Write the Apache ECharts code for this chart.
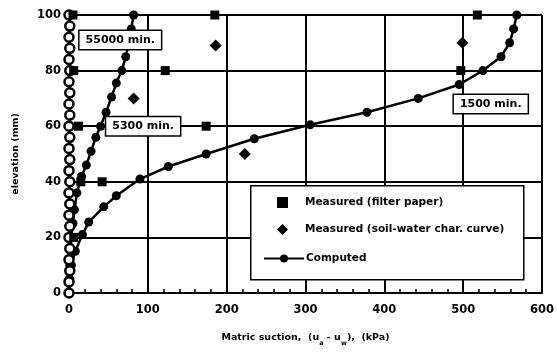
<!DOCTYPE html>
<html><head><meta charset="utf-8">
<script src="https://cdn.jsdelivr.net/npm/echarts@6/dist/echarts.min.js"></script>
<style>html,body{margin:0;padding:0;background:#fff}#c{width:557px;height:354px}</style>
</head><body><div id="c"></div>
<script>
// ---- data ----
const xTickValues = [0, 100, 200, 300, 400, 500, 600];
const yTickValues = [0, 20, 40, 60, 80, 100];
const filterPaper = [[5,100],[185,100],[518,100],[6,80],[122,80],[497,80],[12,60],[174,60],[15,40],[42,40],[6,20]];
const soilWaterCurve = [[186,89],[82,70],[223,50],[499,90]];
const computed1500 = [[0,0],[1,5],[3,10],[8,15],[17,21],[25,25.5],[44,31],[60,35],[90,41],[126,45.5],[174,50],[235,55.5],[306,60.5],[378,65],[443,70],[495,75],[525,80],[548,85],[559,90],[564,95],[568,100]];
const computed5300 = [[0,0],[0,5],[1,10],[2,15],[3,20],[5,25],[7,30],[10,36],[16,42],[22,46],[28,51],[34,56],[40,60],[47,65],[54,70.5],[60,75.5],[67,80],[72,85],[76,90],[79,95],[82,100]];
const computed55000 = [[0,0],[0,4],[1,8],[0,12],[1,16],[0,20],[1,24],[0,28],[1,32],[0,36],[1,40],[0,44],[1,48],[0,52],[1,56],[0,60],[1,64],[0,68],[1,72],[0,76],[1,80],[0,84],[1,88],[0,92],[1,96],[0,100]];
const curveLabels = ['1500 min.', '5300 min.', '55000 min.'];
const labelAnchors = [[535,68],[94,60],[65,91]];
const seriesNames = ['Measured (filter paper)', 'Measured (soil-water char. curve)', 'Computed'];

const FONT = 'DejaVu Sans';
function boxLabel(i) {
  return {
    symbol: 'rect', symbolSize: 0, z: 10,
    data: [{ coord: labelAnchors[i], value: curveLabels[i] }],
    label: {
      show: true, position: 'inside', formatter: curveLabels[i],
      color: '#000', fontFamily: FONT, fontWeight: 'bold', fontSize: 11,
      backgroundColor: '#fff', borderColor: '#000', borderWidth: 1.5,
      padding: [4, 6, 3, 6]
    }
  };
}
const lineBase = {
  type: 'line', name: seriesNames[2], symbol: 'circle', symbolSize: 9, showSymbol: true,
  itemStyle: { color: '#000' }, lineStyle: { color: '#000', width: 2.5 }, z: 3
};
const legendText = { color: '#000', fontFamily: FONT, fontWeight: 'bold', fontSize: 10.5 };
const chart = echarts.init(document.getElementById('c'), null, { renderer: 'canvas' });
chart.setOption({
  animation: false,
  backgroundColor: '#fff',
  grid: { left: 69, right: 11, top: 15, bottom: 61 },
  xAxis: {
    type: 'value', min: xTickValues[0], max: xTickValues[xTickValues.length - 1], interval: 100,
    name: 'Matric suction,  (u{s|a} - u{s|w}),  (kPa)',
    nameLocation: 'middle', nameGap: 40,
    nameTextStyle: {
      color: '#000', fontFamily: FONT, fontWeight: 'bold', fontSize: 9.5,
      rich: { s: { fontSize: 6.5, fontFamily: FONT, fontWeight: 'bold', color: '#000', verticalAlign: 'bottom', padding: [0,0,-4,0] } }
    },
    axisLine: { show: true, lineStyle: { color: '#000', width: 2 } },
    axisTick: { show: false, inside: true },
    minorTick: { show: true, splitNumber: 5, length: 4, lineStyle: { color: '#000', width: 1.5 } },
    axisLabel: { color: '#000', fontFamily: FONT, fontWeight: 'bold', fontSize: 11.5, margin: 11 },
    splitLine: { show: true, lineStyle: { color: '#000', width: 2 } }
  },
  yAxis: {
    type: 'value', min: yTickValues[0], max: yTickValues[yTickValues.length - 1], interval: 20,
    name: 'elevation (mm)', nameLocation: 'middle', nameGap: 48, nameRotate: 90,
    nameTextStyle: { color: '#000', fontFamily: FONT, fontWeight: 'bold', fontSize: 9.5 },
    axisLine: { show: true, lineStyle: { color: '#000', width: 2 } },
    axisTick: { show: false },
    axisLabel: { color: '#000', fontFamily: FONT, fontWeight: 'bold', fontSize: 11.5, margin: 8 },
    splitLine: { show: true, lineStyle: { color: '#000', width: 2 } }
  },
  graphic: [{
    type: 'rect', left: 250, top: 185, z: 50,
    shape: { width: 273, height: 94 },
    style: { fill: '#fff', stroke: '#000', lineWidth: 1.5 }
  }],
  legend: [{
    orient: 'vertical', left: 277, top: 197, z: 60,
    data: seriesNames.slice(0, 2),
    itemWidth: 11, itemHeight: 11, itemGap: 16,
    padding: 0,
    textStyle: Object.assign({ padding: [0, 0, 0, 12] }, legendText)
  }, {
    orient: 'vertical', left: 263, top: 253, z: 60,
    data: seriesNames.slice(2),
    itemWidth: 40, itemHeight: 10,
    padding: 0,
    textStyle: Object.assign({ padding: [0, 0, 0, -3] }, legendText)
  }],
  series: [
    { type: 'scatter', name: seriesNames[0], data: filterPaper, symbol: 'rect', symbolSize: 9,
      itemStyle: { color: '#000', opacity: 1 }, z: 4 },
    { type: 'scatter', name: seriesNames[1], data: soilWaterCurve, symbol: 'diamond', symbolSize: 12,
      itemStyle: { color: '#000', opacity: 1 }, z: 4 },
    Object.assign({}, lineBase, { data: computed1500, markPoint: boxLabel(0) }),
    Object.assign({}, lineBase, { data: computed5300, markPoint: boxLabel(1) }),
    Object.assign({}, lineBase, { data: computed55000, markPoint: boxLabel(2),
      itemStyle: { color: '#fff', borderColor: '#000', borderWidth: 2.5 } })
  ]
});
</script>
</body></html>
